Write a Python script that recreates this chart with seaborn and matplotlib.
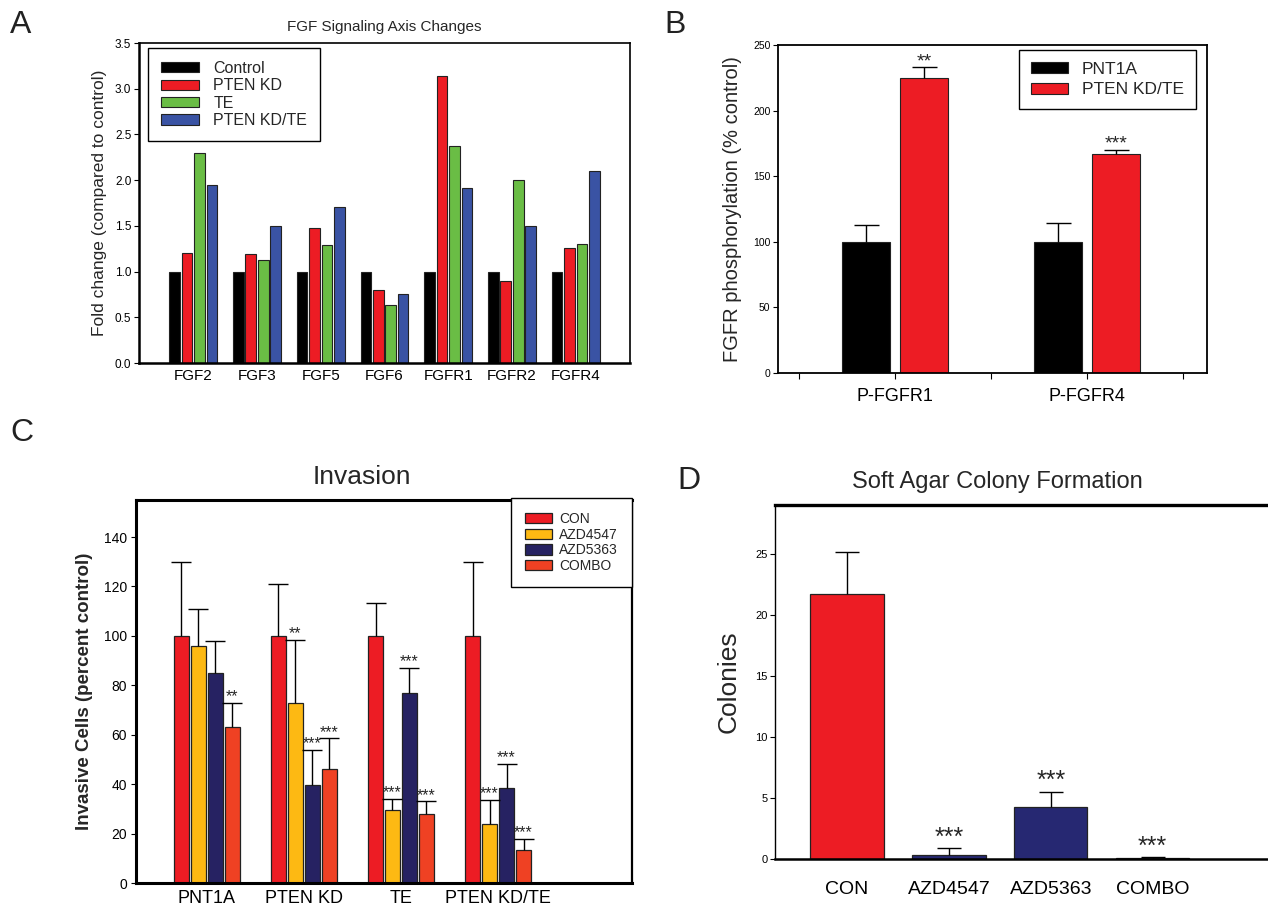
import numpy as np
import pandas as pd
import seaborn as sns
from matplotlib import pyplot as plt

# ---- panel A: FGF signaling axis (fold change)
genes = ["FGF2", "FGF3", "FGF5", "FGF6", "FGFR1", "FGFR2", "FGFR4"]
a_groups = ["Control", "PTEN KD", "TE", "PTEN KD/TE"]
a_control = [1.0, 1.0, 1.0, 1.0, 1.0, 1.0, 1.0]
a_pten_kd = [1.20, 1.19, 1.48, 0.80, 3.14, 0.90, 1.26]
a_te = [2.30, 1.13, 1.29, 0.63, 2.37, 2.00, 1.30]
a_pten_te = [1.95, 1.50, 1.71, 0.76, 1.91, 1.50, 2.10]
a_colors = ["#000000", "#ED1C24", "#6ABD45", "#3A53A4"]

# ---- panel B: FGFR phosphorylation
b_targets = ["P-FGFR1", "P-FGFR4"]
b_groups = ["PNT1A", "PTEN KD/TE"]
b_pnt1a = [100, 100]
b_pnt1a_err = [13, 14]
b_pten_te = [225, 167]
b_pten_te_err = [8, 3]
b_sig = ["**", "***"]
b_colors = ["#000000", "#ED1C24"]

# ---- panel C: invasion
c_lines = ["PNT1A", "PTEN KD", "TE", "PTEN KD/TE"]
c_treat = ["CON", "AZD4547", "AZD5363", "COMBO"]
c_con = [100, 100, 100, 100]
c_con_err = [30, 21, 13.5, 30]
c_con_sig = ["", "", "", ""]
c_azd4547 = [96, 73, 29.5, 24]
c_azd4547_err = [15, 25.5, 4.5, 9.5]
c_azd4547_sig = ["", "**", "***", "***"]
c_azd5363 = [85, 39.5, 77, 38.5]
c_azd5363_err = [13, 14.5, 10, 9.8]
c_azd5363_sig = ["", "***", "***", "***"]
c_combo = [63, 46, 28, 13.5]
c_combo_err = [10, 12.5, 5, 4.5]
c_combo_sig = ["**", "***", "***", "***"]
c_colors = ["#ED1C24", "#FDB913", "#262262", "#EF4123"]

# ---- panel D: soft agar colonies
d_treat = ["CON", "AZD4547", "AZD5363", "COMBO"]
d_colonies = [21.7, 0.3, 4.3, 0.05]
d_err = [3.45, 0.6, 1.2, 0.1]
d_sig = ["", "***", "***", "***"]
d_colors = ["#ED1C24", "#262872", "#262872", "#262872"]

sns.set_style("ticks")
plt.rcParams["font.family"] = ["Liberation Sans", "DejaVu Sans"]
plt.rcParams["axes.edgecolor"] = "black"
plt.rcParams["xtick.color"] = "black"
plt.rcParams["ytick.color"] = "black"

W, H = 1268, 905


def box(l, t, r, b):
    return [l / W, 1 - b / H, (r - l) / W, (b - t) / H]


def long_df(cats, groups, series, cat_name, grp_name, val_name):
    rows = []
    for g, vals in zip(groups, series):
        for c, v in zip(cats, vals):
            rows.append({cat_name: c, grp_name: g, val_name: v})
    return pd.DataFrame(rows)


def add_err(ax, bars, errs, sigs, capsize, fs, lw=1.0, off=0):
    xs = [b.get_x() + b.get_width() / 2 for b in bars]
    ys = [b.get_height() for b in bars]
    eb = ax.errorbar(xs, ys, yerr=[np.zeros(len(errs)), errs], fmt="none",
                     ecolor="black", elinewidth=lw, capsize=capsize, capthick=lw, zorder=3)
    # only keep the upper cap
    eb[1][0].set_visible(False)
    for x, y, e, s in zip(xs, ys, errs, sigs):
        if s:
            ax.annotate(s, (x, y + e), xytext=(0, off), textcoords="offset points",
                        ha="center", va="bottom", fontsize=fs)


fig = plt.figure(figsize=(W / 100, H / 100), dpi=100)

# ---------------- A
axA = fig.add_axes(box(139, 43, 630, 363))
dfA = long_df(genes, a_groups, [a_control, a_pten_kd, a_te, a_pten_te], "gene", "group", "fold")
sns.barplot(data=dfA, x="gene", y="fold", hue="group", palette=a_colors, width=0.78, gap=0.14,
            edgecolor="#222222", linewidth=0.8, saturation=1, ax=axA)
axA.set_xlim(-0.85, 6.85)
axA.set_ylim(0, 3.5)
axA.set_yticks(np.arange(0, 3.51, 0.5))
axA.set_yticklabels([f"{v:.1f}" for v in np.arange(0, 3.51, 0.5)], fontsize=8.5)
axA.tick_params(axis="x", length=0, labelsize=11, pad=4)
axA.tick_params(axis="y", length=3.5, width=0.8, pad=2)
axA.set_xlabel("")
axA.set_ylabel("Fold change (compared to control)", fontsize=12.5, labelpad=6)
axA.set_title("FGF Signaling Axis Changes", fontsize=11, pad=9)
for s in ["top", "right"]:
    axA.spines[s].set_visible(True)
    axA.spines[s].set_linewidth(1.2)
for s in ["left", "bottom"]:
    axA.spines[s].set_linewidth(1.8)
legA = axA.legend(loc="upper left", bbox_to_anchor=(0.018, 0.984), borderaxespad=0, fontsize=11.5,
                  frameon=True, fancybox=False, edgecolor="black", handlelength=2.4,
                  handleheight=0.6, labelspacing=0.15, handletextpad=0.9, borderpad=0.8)
legA.get_frame().set_linewidth(1.0)
legA.get_frame().set_alpha(1)

# ---------------- B
axB = fig.add_axes(box(778, 45, 1207, 373))
dfB = long_df(b_targets, b_groups, [b_pnt1a, b_pten_te], "target", "group", "phos")
sns.barplot(data=dfB, x="target", y="phos", hue="group", palette=b_colors, width=0.6, gap=0.167,
            edgecolor="#222222", linewidth=0.8, saturation=1, ax=axB)
for cont, errs, sigs in zip(axB.containers, [b_pnt1a_err, b_pten_te_err], [["", ""], b_sig]):
    add_err(axB, cont, errs, sigs, capsize=9, fs=14, off=-2)
axB.set_xlim(-0.61, 1.625)
axB.set_ylim(0, 250)
axB.set_yticks(range(0, 251, 50))
axB.set_xticks([-0.5, 0.5, 1.5], minor=True)
axB.tick_params(axis="y", labelsize=7.5, length=3.5, width=0.8, pad=2)
axB.tick_params(axis="x", which="both", length=4.5, width=0.8, labelsize=13, pad=6)
axB.set_xlabel("")
axB.set_ylabel("FGFR phosphorylation (% control)", fontsize=14.5, labelpad=8)
for s in ["top", "right", "left", "bottom"]:
    axB.spines[s].set_visible(True)
    axB.spines[s].set_linewidth(1.3)
legB = axB.legend(loc="upper right", bbox_to_anchor=(0.974, 0.985), borderaxespad=0, fontsize=12.5,
                  frameon=True, fancybox=False, edgecolor="black", handlelength=2.1,
                  handleheight=0.6, labelspacing=0.3, handletextpad=0.8, borderpad=0.7)
legB.get_frame().set_linewidth(1.0)
legB.get_frame().set_alpha(1)

# ---------------- C
axC = fig.add_axes(box(136, 500, 632, 883))
dfC = long_df(c_lines, c_treat, [c_con, c_azd4547, c_azd5363, c_combo], "line", "treat", "cells")
sns.barplot(data=dfC, x="line", y="cells", hue="treat", palette=c_colors, width=0.70, gap=0.15,
            edgecolor="#222222", linewidth=0.9, saturation=1, ax=axC)
c_errs = [c_con_err, c_azd4547_err, c_azd5363_err, c_combo_err]
c_sigs = [c_con_sig, c_azd4547_sig, c_azd5363_sig, c_combo_sig]
for cont, errs, sigs in zip(axC.containers, c_errs, c_sigs):
    add_err(axC, cont, errs, sigs, capsize=7, fs=11.5, off=-1)
axC.set_xlim(-0.73, 4.38)
axC.set_ylim(0, 155)
axC.set_yticks(range(0, 141, 20))
axC.tick_params(axis="y", labelsize=10, length=3.5, width=0.8, pad=3)
axC.tick_params(axis="x", length=0, labelsize=13, pad=5)
axC.set_xlabel("")
axC.set_ylabel("Invasive Cells (percent control)", fontsize=13.5, fontweight="bold", labelpad=8)
for s in ["top", "right", "left", "bottom"]:
    axC.spines[s].set_visible(True)
    axC.spines[s].set_linewidth(2.2)
axC.spines["right"].set_linewidth(1.6)
axC.text(0.455, 1.03, "Invasion", transform=axC.transAxes, ha="center", va="bottom", fontsize=19)
legC = axC.legend(loc="upper right", bbox_to_anchor=(1.0, 1.005), borderaxespad=0, fontsize=10,
                  frameon=True, fancybox=False, edgecolor="black", handlelength=2.0,
                  handleheight=0.75, labelspacing=0.12, handletextpad=0.5, borderpad=1.0)
legC.get_frame().set_linewidth(1.0)
legC.get_frame().set_alpha(1)

# ---------------- D
axD = fig.add_axes(box(775, 505, 1275, 859))
dfD = pd.DataFrame({"treat": d_treat, "colonies": d_colonies})
sns.barplot(data=dfD, x="treat", y="colonies", hue="treat", palette=d_colors, width=0.72,
            edgecolor="#222222", linewidth=0.9, saturation=1, legend=False, ax=axD)
d_bars = [b for cont in axD.containers for b in cont]
add_err(axD, d_bars, d_err, d_sig, capsize=8.5, fs=18, off=-1)
axD.set_xlim(-0.706, 4.2)
axD.set_ylim(0, 29)
axD.set_yticks(range(0, 26, 5))
axD.tick_params(axis="y", labelsize=8, length=3.5, width=0.8, pad=2)
axD.tick_params(axis="x", length=0, labelsize=14, pad=16)
axD.set_xlabel("")
axD.set_ylabel("Colonies", fontsize=19, labelpad=10)
axD.spines["top"].set_visible(True)
axD.spines["top"].set_linewidth(2.4)
axD.spines["left"].set_linewidth(1.0)
axD.spines["bottom"].set_linewidth(1.8)
axD.spines["right"].set_visible(False)
fig.text(997 / W, 1 - 482 / H, "Soft Agar Colony Formation", ha="center", va="center", fontsize=17)

# panel letters
for lab, x, y in [("A", 10, 10), ("B", 664, 10), ("C", 10, 418), ("D", 677, 466)]:
    fig.text(x / W, 1 - y / H, lab, ha="left", va="top", fontsize=23, color="#222222")

fig.savefig("out.png", dpi=100)
